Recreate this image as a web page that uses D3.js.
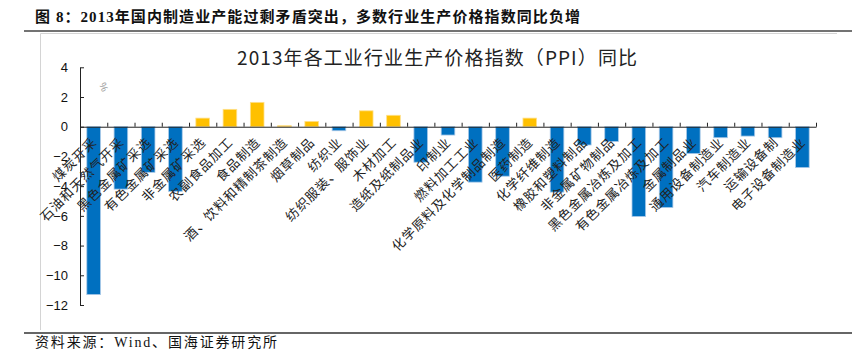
<!DOCTYPE html>
<html>
<head>
<meta charset="utf-8">
<script src="https://cdn.jsdelivr.net/npm/d3@7"></script>
<style>
  body { margin: 0; background: #fff; }
  svg { display: block; }
</style>
</head>
<body>
<div id="chart"></div>
<script>
// Data
const categories = [
    "煤炭开采", "石油和天然气开采", "黑色金属矿采选", "有色金属矿采选", "非金属矿采选",
    "农副食品加工", "食品制造", "酒、饮料和精制茶制造", "烟草制品", "纺织业",
    "纺织服装、服饰业", "木材加工", "造纸及纸制品业", "印制业", "燃料加工工业",
    "化学原料及化学制品制造", "医药制造", "化学纤维制造", "橡胶和塑料制品", "非金属矿物制品",
    "黑色金属冶炼及加工", "有色金属冶炼及加工", "金属制品业", "通用设备制造业", "汽车制造业",
    "运输设备制", "电子设备制造业"
];
const ppiYoY = [
    -11.3, -4.2, -3.07, -4.35, 0.58,
    1.17, 1.64, 0.07, 0.36, -0.27,
    1.07, 0.77, -2.39, -0.56, -3.73,
    -3.33, 0.58, -4.4, -1.23, -1.0,
    -6.04, -5.44, -1.81, -0.74, -0.63,
    -0.74, -2.75
];
const yTicks = [4, 2, 0, -2, -4, -6, -8, -10, -12];

const figTitle = "图 8：2013年国内制造业产能过剩矛盾突出，多数行业生产价格指数同比负增";
const chartTitle = "2013年各工业行业生产价格指数（PPI）同比";
const sourceText = "资料来源：Wind、国海证券研究所";

// Dimensions
const W = 866, H = 350;
const plot = { left: 80, right: 816, top: 67.3, bottom: 305 };

const svg = d3.select("#chart")
    .append("svg")
    .attr("width", W)
    .attr("height", H);

// Page header / footer
svg.append("text")
    .attr("x", 35)
    .attr("y", 22)
    .attr("font-family", "'Liberation Serif', 'Noto Sans CJK SC', serif")
    .attr("font-weight", "bold")
    .attr("font-size", 15)
    .attr("fill", "#111")
    .attr("textLength", 545)
    .attr("lengthAdjust", "spacing")
    .text(figTitle);

svg.append("line")
    .attr("x1", 24).attr("x2", 852)
    .attr("y1", 31).attr("y2", 31)
    .attr("stroke", "#444").attr("stroke-width", 1.5);

// chart frame (top + left only)
svg.append("path")
    .attr("d", "M40.5,330 V33.5 H837")
    .attr("fill", "none")
    .attr("stroke", "#d4d4d4")
    .attr("stroke-width", 1);

svg.append("line")
    .attr("x1", 24).attr("x2", 852)
    .attr("y1", 333).attr("y2", 333)
    .attr("stroke", "#333").attr("stroke-width", 1.5);

svg.append("text")
    .attr("x", 35)
    .attr("y", 347)
    .attr("font-family", "'Liberation Serif', 'Noto Sans CJK SC', serif")
    .attr("font-size", 14)
    .attr("fill", "#111")
    .attr("textLength", 242)
    .attr("lengthAdjust", "spacing")
    .text(sourceText);

// Chart title
svg.append("text")
    .attr("x", 237)
    .attr("y", 65)
    .attr("font-family", "'Noto Sans CJK SC', sans-serif")
    .attr("font-size", 19)
    .attr("fill", "#222")
    .attr("textLength", 400)
    .attr("lengthAdjust", "spacing")
    .text(chartTitle);

// Scales
const xScale = d3.scaleBand()
    .domain(categories)
    .range([plot.left, plot.right])
    .paddingInner(0.5)
    .paddingOuter(0.25);

const xEdges = d3.scaleLinear()
    .domain([0, categories.length])
    .range([plot.left, plot.right]);

const yScale = d3.scaleLinear()
    .domain([-12, 4])
    .range([plot.bottom, plot.top]);

// Bars
svg.append("g")
    .selectAll("rect")
    .data(categories)
    .join("rect")
    .attr("x", d => xScale(d))
    .attr("width", xScale.bandwidth())
    .attr("y", (d, i) => yScale(Math.max(0, ppiYoY[i])))
    .attr("height", (d, i) => Math.abs(yScale(ppiYoY[i]) - yScale(0)))
    .attr("fill", (d, i) => ppiYoY[i] < 0 ? "#0070C0" : "#FFC000")
    .attr("stroke", (d, i) => ppiYoY[i] < 0 ? "#a9c9e8" : "#ffe08a")
    .attr("stroke-width", 0.8);

// Y axis (ticks pointing inward)
const yAxis = svg.append("g")
    .attr("transform", `translate(${plot.left},0)`)
    .call(d3.axisLeft(yScale).tickValues(yTicks).tickSizeInner(-4).tickSizeOuter(0).tickPadding(12));
yAxis.selectAll("text")
    .attr("font-family", "'Liberation Sans', Arial, sans-serif")
    .attr("font-size", 13)
    .attr("fill", "#111");
yAxis.selectAll("line, path").attr("stroke", "#222");

// X axis at zero, ticks on category boundaries pointing up
const xAxis = svg.append("g")
    .attr("transform", `translate(0,${yScale(0)})`)
    .call(d3.axisBottom(xEdges).tickValues(d3.range(categories.length + 1)).tickSizeInner(-4).tickSizeOuter(0).tickFormat(""));
xAxis.selectAll("line, path").attr("stroke", "#222");

// Rotated category labels
svg.append("g")
    .selectAll("text")
    .data(categories)
    .join("text")
    .attr("transform", d => `translate(${xScale(d) + xScale.bandwidth() / 2 + 4},143) rotate(-45)`)
    .attr("text-anchor", "end")
    .attr("font-family", "'Noto Sans CJK SC', sans-serif")
    .attr("font-size", 13)
    .attr("letter-spacing", 1)
    .attr("fill", "#222")
    .text(d => d);

// unit mark
svg.append("text")
    .attr("transform", "translate(99,84) rotate(70)")
    .attr("font-family", "'Liberation Sans', Arial, sans-serif")
    .attr("font-size", 10)
    .attr("fill", "#999")
    .text("%");
</script>
</body>
</html>
